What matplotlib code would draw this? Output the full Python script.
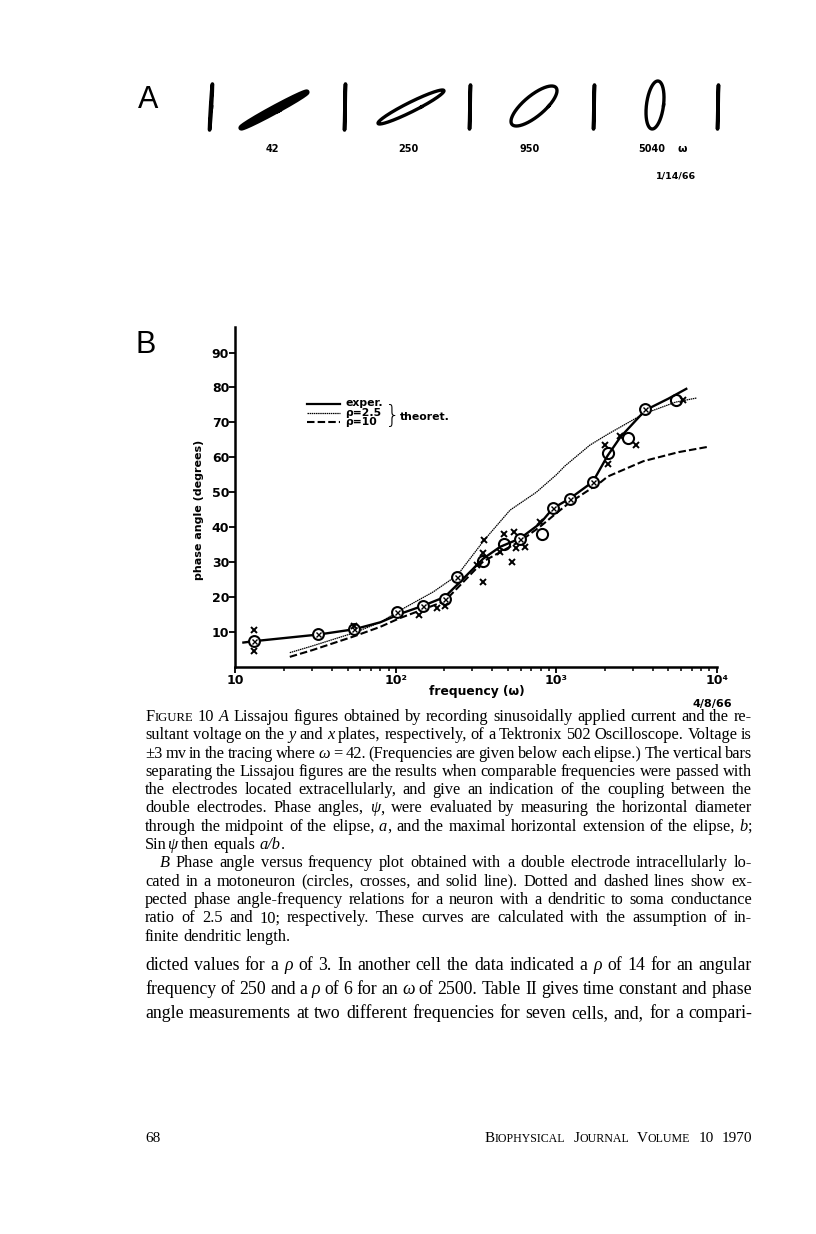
import numpy as np
import matplotlib.pyplot as plt
from matplotlib.ticker import FixedLocator, NullFormatter

W, H, DPI = 816, 1234, 100

# ---- panel B data ----
circx_f = [13.1, 32.9, 54.8, 102, 147, 201, 242, 595, 952, 1222, 1690, 3590]
circx_d = [7.4, 9.5, 10.8, 15.8, 17.5, 19.5, 25.8, 36.5, 45.6, 48.0, 53.0, 73.7]

circle_f = [350, 475, 813, 2090, 2810, 5540]
circle_d = [30.4, 35.2, 38.2, 61.2, 65.5, 76.4]

cross_f = [13.1, 13.1, 54.8, 140, 181, 203, 355, 348, 322, 350, 473, 447, 533,
           546, 562, 640, 794, 2010, 2090, 2510, 3160, 6150]
cross_d = [10.5, 4.6, 11.7, 14.9, 17.0, 17.5, 36.3, 32.7, 29.2, 24.2, 38.0, 33.0, 30.1,
           38.7, 34.0, 34.4, 41.6, 63.6, 58.2, 66.2, 63.6, 76.4]

exper_f = [11.2, 13.1, 33, 55, 80, 106, 147, 201, 242, 350, 447, 595, 794, 952,
           1222, 1690, 2090, 2510, 3590, 5000, 6460]
exper_d = [7.0, 7.4, 9.3, 10.8, 12.8, 15.2, 17.5, 20.0, 23.6, 31.0, 34.4, 36.8, 41.1, 45.4,
           48.3, 53.0, 60.5, 65.8, 73.5, 76.8, 79.6]

rho25_f = [21.8, 30, 55, 80, 106, 171, 242, 355, 515, 750, 1000, 1130, 1620, 2090, 3490, 5540, 7530]
rho25_d = [4.1, 6.0, 9.8, 12.8, 16.2, 21.5, 26.3, 36.3, 44.9, 50.0, 55.0, 57.5, 63.5, 66.6, 72.4, 75.8, 77.0]

rho10_f = [21.8, 30, 55, 80, 106, 201, 350, 595, 794, 1000, 1190, 1880, 2090, 3490, 5800, 8800]
rho10_d = [2.9, 4.8, 8.8, 11.5, 14.0, 18.8, 30.2, 36.0, 40.2, 44.0, 46.8, 52.8, 54.5, 58.9, 61.5, 63.0]

yticks = [10, 20, 30, 40, 50, 60, 70, 80, 90]
xticks = [10, 100, 1000, 10000]
xtick_labels = ['10', '10²', '10³', '10⁴']

# ---- panel A: Lissajou figures ----
lis_freq = ['42', '250', '950', '5040']
lis_psi = [8, 18, 40, 72]           # apparent phase angle of each trace (deg)
lis_xamp = [33, 33, 23, 9]
lis_yamp = [18, 17, 20, 24]
lis_lw = [3.8, 2.4, 2.4, 2.4]
bar_xamp = [1.5, 0.5, 0.5, 0.5, 0.5]
bar_yamp = [23, 23, 22, 22, 22]

# ---- text ----
caption = [
    "~Figure~ 10 _A_ Lissajou figures obtained by recording sinusoidally applied current and the re-",
    "sultant voltage on the _y_ and _x_ plates, respectively, of a Tektronix 502 Oscilloscope. Voltage is",
    "±3 mv in the tracing where _ω_ = 42. (Frequencies are given below each elipse.) The vertical bars",
    "separating the Lissajou figures are the results when comparable frequencies were passed with",
    "the electrodes located extracellularly, and give an indication of the coupling between the",
    "double electrodes. Phase angles, _ψ_, were evaluated by measuring the horizontal diameter",
    "through the midpoint of the elipse, _a_, and the maximal horizontal extension of the elipse, _b_;",
    "Sin_ψ_ then equals _a/b_.",
    "_B_ Phase angle versus frequency plot obtained with a double electrode intracellularly lo-",
    "cated in a motoneuron (circles, crosses, and solid line). Dotted and dashed lines show ex-",
    "pected phase angle-frequency relations for a neuron with a dendritic to soma conductance",
    "ratio of 2.5 and 10; respectively. These curves are calculated with the assumption of in-",
    "finite dendritic length.",
]
caption_last = [7, 12]      # lines not justified
caption_indent = {8: 15}

body = [
    "dicted values for a _ρ_ of 3. In another cell the data indicated a _ρ_ of 14 for an angular",
    "frequency of 250 and a _ρ_ of 6 for an _ω_ of 2500. Table II gives time constant and phase",
    "angle measurements at two different frequencies for seven cells, and, for a compari-",
]

plt.rcParams['font.family'] = 'DejaVu Sans'
fig = plt.figure(figsize=(W / DPI, H / DPI), dpi=DPI)
fig.patch.set_facecolor('white')

# plot axes
ax = fig.add_axes([235.5 / W, (H - 667) / H, (716.7 - 235.5) / W, (667 - 327) / H])
ax.set_xscale('log')
ax.set_xlim(10, 1e4)
ax.set_ylim(0, 97.3)
ax.patch.set_alpha(0)
for s in ['top', 'right']:
    ax.spines[s].set_visible(False)
for s in ['left', 'bottom']:
    ax.spines[s].set_linewidth(1.8)

ax.plot(rho25_f, rho25_d, color='k', lw=0.9, linestyle=(0, (1.2, 0.5)))
ax.plot(rho10_f, rho10_d, color='k', lw=1.5, dashes=(3.6, 1.5))
ax.plot(exper_f, exper_d, color='k', lw=1.7)

ax.plot(circx_f, circx_d, 'o', mfc='white', mec='k', ms=7.8, mew=1.5, clip_on=False)
ax.plot(circx_f, circx_d, 'x', color='k', ms=3.6, mew=1.0, clip_on=False)
ax.plot(circle_f, circle_d, 'o', mfc='none', mec='k', ms=8, mew=1.5, clip_on=False)
ax.plot(cross_f, cross_d, 'x', color='k', ms=4.8, mew=1.4, clip_on=False)

ax.yaxis.set_major_locator(FixedLocator(yticks))
ax.set_yticklabels([str(v) for v in yticks], fontsize=9, fontweight='bold')
ax.tick_params(axis='y', direction='out', length=4, width=1.3, pad=0.5)
ax.xaxis.set_major_locator(FixedLocator(xticks))
ax.set_xticklabels(xtick_labels, fontsize=9, fontweight='bold')
ax.xaxis.set_minor_locator(FixedLocator([m * d for d in [10, 100, 1000] for m in range(2, 10)]))
ax.xaxis.set_minor_formatter(NullFormatter())
ax.tick_params(axis='x', which='major', direction='out', length=4, width=1.3, pad=1)
ax.tick_params(axis='x', which='minor', direction='out', length=3, width=1.1)

# page overlay in pixel coordinates
page = fig.add_axes([0, 0, 1, 1])
page.set_xlim(0, W)
page.set_ylim(H, 0)
page.axis('off')
page.patch.set_alpha(0)

page.text(199, 510, 'phase angle (degrees)', rotation=90, ha='center', va='center',
          fontsize=8, fontweight='bold')
page.text(477, 691, 'frequency (ω)', ha='center', va='center', fontsize=8.8, fontweight='bold')
page.text(712, 704, '4/8/66', ha='center', va='center', fontsize=8, fontweight='bold')

# legend
page.plot([307, 340], [404, 404], color='k', lw=1.6)
page.plot([307, 340], [413, 413], color='k', lw=0.9, linestyle=(0, (1.2, 0.5)))
page.plot([307, 340], [421.5, 421.5], color='k', lw=1.5, dashes=(3.6, 1.5))
page.text(345, 403.5, 'exper.', ha='left', va='center', fontsize=7.8, fontweight='bold')
page.text(345, 413, 'ρ=2.5', ha='left', va='center', fontsize=7.8, fontweight='bold')
page.text(345, 422, 'ρ=10', ha='left', va='center', fontsize=7.8, fontweight='bold')
page.text(385, 416, '}', ha='left', va='center', fontsize=17, fontweight='light')
page.text(400, 416.5, 'theoret.', ha='left', va='center', fontsize=7.8, fontweight='bold')

# panel labels
page.text(148, 100, 'A', ha='center', va='center', fontsize=22, family='Liberation Sans')
page.text(146, 345, 'B', ha='center', va='center', fontsize=22, family='Liberation Sans')

# Lissajou figures and vertical bars
t = np.linspace(0, 2 * np.pi, 300)
lis_cx = [274, 411, 534, 655]
lis_cy = [110, 107, 106, 105]
for cx, cy, psi, a, b, lw in zip(lis_cx, lis_cy, lis_psi, lis_xamp, lis_yamp, lis_lw):
    page.plot(cx + a * np.sin(t + np.radians(psi)), cy - b * np.sin(t), color='k', lw=lw)
bar_cx = [211, 345, 470, 594, 718]
for cx, a, b in zip(bar_cx, bar_xamp, bar_yamp):
    page.plot(cx + a * np.sin(t + 0.3), 107 - b * np.sin(t), color='k', lw=2.6)
lab_x = [272, 408, 530, 652]
for x, s in zip(lab_x, lis_freq):
    page.text(x, 149, s, ha='center', va='center', fontsize=7, fontweight='bold')
page.text(682, 149, 'ω', ha='center', va='center', fontsize=7.8, fontweight='bold')
page.text(676, 176, '1/14/66', ha='center', va='center', fontsize=6.8, fontweight='bold')

# ---- justified serif text ----
renderer = fig.canvas.get_renderer()
SERIF = 'Liberation Serif'


def word_parts(word):
    parts, buf, it, sm = [], '', False, False
    for ch in word:
        if ch in '_~':
            if buf:
                parts.append((buf, it, sm))
                buf = ''
            if ch == '_':
                it = not it
            else:
                sm = not sm
        else:
            buf += ch
    if buf:
        parts.append((buf, it, sm))
    out = []
    for txt, it, sm in parts:
        if not sm:
            out.append((txt, it, 1.0))
            continue
        run, low = '', None
        for ch in txt:
            if run and ch.islower() != low:
                out.append((run.upper(), it, 0.78 if low else 1.0))
                run = ''
            run += ch
            low = ch.islower()
        out.append((run.upper(), it, 0.78 if low else 1.0))
    return out


def make_word(word, y, size):
    arts, offs, x = [], [], 0.0
    for txt, it, sc in word_parts(word):
        a = page.text(0, y, txt, fontsize=size * sc, family=SERIF,
                      fontstyle='italic' if it else 'normal', ha='left', va='baseline')
        arts.append(a)
        offs.append(x)
        x += a.get_window_extent(renderer).width
    return arts, offs, x


def set_line(line, y, size, x0, x1, justify=True, indent=0, right=False, gap=None):
    items = [make_word(w, y, size) for w in line.split()]
    total = sum(it[2] for it in items)
    n = len(items) - 1
    if gap is None:
        gap = size * DPI / 72 * 0.26
        if justify and n > 0:
            gap = (x1 - x0 - indent - total) / n
    x = x0 + indent
    if right:
        x = x1 - total - gap * n
    for arts, offs, w in items:
        for a, o in zip(arts, offs):
            a.set_x(x + o)
        x += w + gap


def natural(line, size):
    items = [make_word(w, 0, size) for w in line.split()]
    tot = sum(it[2] for it in items)
    for arts, _, _ in items:
        for a in arts:
            a.remove()
    return tot, len(items) - 1


def fit_size(lines, width, base, skip=(), min_space=0.2):
    s = 100.0
    for i, ln in enumerate(lines):
        if i in skip:
            continue
        tot, n = natural(ln, base)
        need = tot + n * base * DPI / 72 * min_space
        s = min(s, base * width / need)
    return s


X0, X1 = 145, 752
cap_size = fit_size(caption, X1 - X0, 10.0, skip=caption_last, min_space=0.18)
for i, ln in enumerate(caption):
    set_line(ln, 721 + 18.3 * i, cap_size, X0, X1, justify=i not in caption_last,
             indent=caption_indent.get(i, 0))

body_size = fit_size(body, X1 - X0, 12.0, min_space=0.24)
for i, ln in enumerate(body):
    set_line(ln, 970 + 24 * i, body_size, X0, X1)

set_line('68', 1142, 11, X0, X1, justify=False)
set_line('~Biophysical~ ~Journal~ ~Volume~ 10 1970', 1142, 11, X0, X1,
         justify=False, right=True, gap=8)

fig.savefig('out.png', dpi=DPI, facecolor='white')
